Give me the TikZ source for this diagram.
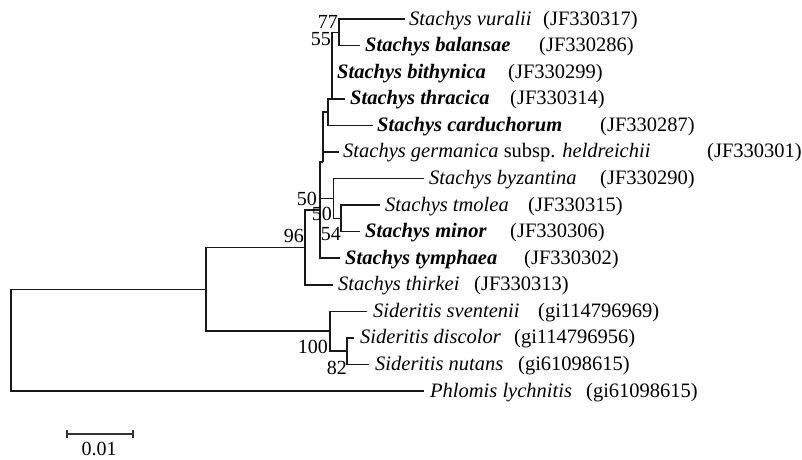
\documentclass[tikz,border=0pt]{standalone}
\usepackage{fontspec}
\setmainfont{Liberation Serif}
\begin{document}
\begin{tikzpicture}[x=1pt,y=-1pt,
  branch/.style={line width=1.6pt, draw=black!90, line join=miter},
  taxon/.style={inner sep=0pt, anchor=base west, font=\fontsize{20.5}{24}\selectfont},
  acc/.style={inner sep=0pt, anchor=base west, font=\fontsize{20.5}{24}\selectfont},
  boot/.style={inner sep=0pt, anchor=base east, font=\fontsize{20}{24}\selectfont},
  scalebar/.style={line width=1.2pt, draw=black!80},
]
\useasboundingbox (0,0) rectangle (802,459);

% internal nodes
\coordinate (R)    at (11,340.2);
\coordinate (I)    at (206,289.3);
\coordinate (K96)  at (305,247.6);
\coordinate (P)    at (320,210);
\coordinate (Q)    at (322.7,162);
\coordinate (A)    at (328,112);
\coordinate (N)    at (331.7,98.7);
\coordinate (M77)  at (339,32.3);
\coordinate (L50)  at (333.3,198.4);
\coordinate (N54)  at (340.7,218.3);
\coordinate (S100) at (330,331.2);
\coordinate (N82)  at (347,351.1);

% tips (ends of terminal branches)
\coordinate (t1)  at (405,19.0);
\coordinate (t2)  at (360,45.6);
\coordinate (t3)  at (331.7,72.1);
\coordinate (t4)  at (345,98.7);
\coordinate (t5)  at (373,125.3);
\coordinate (t6)  at (338.5,151.9);
\coordinate (t7)  at (424,178.4);
\coordinate (t8)  at (380,205.0);
\coordinate (t9)  at (360,231.6);
\coordinate (t10) at (340,258.1);
\coordinate (t11) at (333,284.7);
\coordinate (t12) at (367,311.3);
\coordinate (t13) at (354,337.8);
\coordinate (t14) at (369,364.4);
\coordinate (t15) at (424,391.0);

% branches
\draw[branch] (R) |- (I);
\draw[branch] (R) |- (t15);
\draw[branch] (I) |- (K96);
\draw[branch] (I) |- (S100);
\draw[branch] (K96) |- (P);
\draw[branch] (K96) |- (t11);
\draw[branch] (P) |- (Q);
\draw[branch] (P) |- (L50);
\draw[branch] (P) |- (t10);
\draw[branch] (Q) |- (A);
\draw[branch] (Q) |- (t6);
\draw[branch] (A) |- (N);
\draw[branch] (A) |- (t5);
\draw[branch] (N) |- (M77);
\draw[branch] (N) |- (t3);
\draw[branch] (N) |- (t4);
\draw[branch] (M77) |- (t1);
\draw[branch] (M77) |- (t2);
\draw[branch] (L50) |- (t7);
\draw[branch] (L50) |- (N54);
\draw[branch] (N54) |- (t8);
\draw[branch] (N54) |- (t9);
\draw[branch] (S100) |- (t12);
\draw[branch] (S100) |- (N82);
\draw[branch] (N82) |- (t13);
\draw[branch] (N82) |- (t14);

% taxon names
\node[taxon] (s1)  at ([xshift=4pt,yshift=-6pt]t1)  {\textit{Stachys vuralii}};
\node[taxon] (s2)  at ([xshift=5pt,yshift=-6pt]t2)  {\textbf{\textit{Stachys balansae}}};
\node[taxon] (s3)  at ([xshift=5.3pt,yshift=-6pt]t3) {\textbf{\textit{Stachys bithynica}}};
\node[taxon] (s4)  at ([xshift=5pt,yshift=-6pt]t4)  {\textbf{\textit{Stachys thracica}}};
\node[taxon] (s5)  at ([xshift=4pt,yshift=-6pt]t5)  {\textbf{\textit{Stachys carduchorum}}};
\node[taxon] (s6)  at ([xshift=4.5pt,yshift=-6pt]t6) {\textit{Stachys germanica} subsp. \textit{heldreichii}};
\node[taxon] (s7)  at ([xshift=5pt,yshift=-6pt]t7)  {\textit{Stachys byzantina}};
\node[taxon] (s8)  at ([xshift=5pt,yshift=-6pt]t8)  {\textit{Stachys tmolea}};
\node[taxon] (s9)  at ([xshift=5pt,yshift=-6pt]t9)  {\textbf{\textit{Stachys minor}}};
\node[taxon] (s10) at ([xshift=5pt,yshift=-6pt]t10) {\textbf{\textit{Stachys tymphaea}}};
\node[taxon] (s11) at ([xshift=5pt,yshift=-6pt]t11) {\textit{Stachys thirkei}};
\node[taxon] (s12) at ([xshift=6pt,yshift=-6pt]t12) {\textit{Sideritis sventenii}};
\node[taxon] (s13) at ([xshift=6pt,yshift=-6pt]t13) {\textit{Sideritis discolor}};
\node[taxon] (s14) at ([xshift=6pt,yshift=-6pt]t14) {\textit{Sideritis nutans}};
\node[taxon] (s15) at ([xshift=6pt,yshift=-6pt]t15) {\textit{Phlomis lychnitis}};

% accession numbers
\node[acc] (a1)  at (543,25.0)  {(JF330317)};
\node[acc] (a2)  at (539,51.6)  {(JF330286)};
\node[acc] (a3)  at (508,78.1)  {(JF330299)};
\node[acc] (a4)  at (510,104.7) {(JF330314)};
\node[acc] (a5)  at (600,131.3) {(JF330287)};
\node[acc] (a6)  at (707,157.9) {(JF330301)};
\node[acc] (a7)  at (600,184.4) {(JF330290)};
\node[acc] (a8)  at (528,211.0) {(JF330315)};
\node[acc] (a9)  at (510,237.6) {(JF330306)};
\node[acc] (a10) at (524,264.1) {(JF330302)};
\node[acc] (a11) at (474,290.7) {(JF330313)};
\node[acc] (a12) at (538,317.3) {(gi114796969)};
\node[acc] (a13) at (514,343.8) {(gi114796956)};
\node[acc] (a14) at (518,370.4) {(gi61098615)};
\node[acc] (a15) at (586,397.0) {(gi61098615)};

% bootstrap values
\node[boot] (b77)  at (338,28)  {77};
\node[boot] (b55)  at (331,45)  {55};
\node[boot] (b96)  at (304,242) {96};
\node[boot] (b50a) at (317,205) {50};
\node[boot] (b50b) at (332,220) {50};
\node[boot] (b54)  at (341,240) {54};
\node[boot] (b100) at (328,353) {100};
\node[boot] (b82)  at (347,374) {82};

% scale bar
\coordinate (sbL) at (67,434);
\coordinate (sbR) at (133,434);
\draw[scalebar] (sbL) -- (sbR);
\draw[scalebar] ([yshift=4pt]sbL) -- ([yshift=-4pt]sbL);
\draw[scalebar] ([yshift=4pt]sbR) -- ([yshift=-4pt]sbR);
\node[boot, anchor=base] (sbtext) at (99,455) {0.01};
\end{tikzpicture}
\end{document}
